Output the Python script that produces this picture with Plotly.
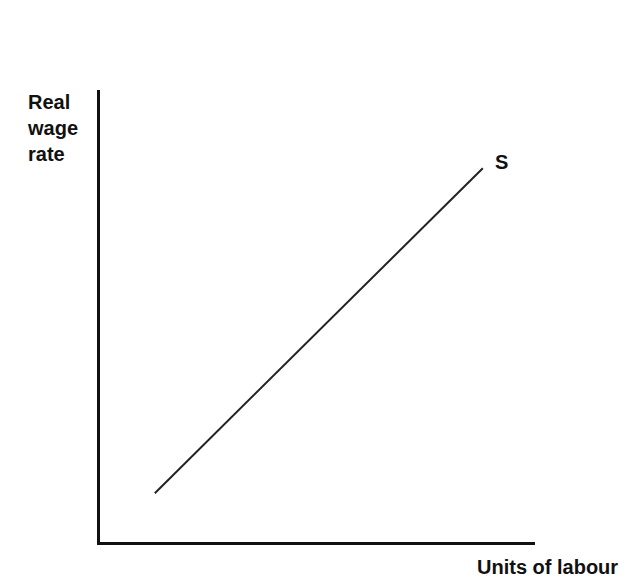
import plotly.graph_objects as go

# Supply curve endpoints (units of labour, real wage rate) in arbitrary units
supply_x = [1.26, 8.8]
supply_y = [1.08, 8.27]
curve_label = "S"
y_title = "Real<br>wage<br>rate"
x_title = "Units of labour"

# page has an 8px body margin, so the figure is sized to fit inside the window
W, H = 615, 572
L, R, T, B = 92, 88, 82, 38
PW, PH = W - L - R, H - T - B

fig = go.Figure()
fig.add_trace(go.Scatter(x=supply_x, y=supply_y, mode="lines",
                         line=dict(color="#222222", width=2), hoverinfo="skip",
                         showlegend=False))

font = dict(family="Liberation Sans, Arial, sans-serif", size=20, color="#111111")

fig.add_annotation(x=supply_x[-1], y=supply_y[-1], xref="x", yref="y",
                   text="<b>%s</b>" % curve_label, showarrow=False,
                   xanchor="center", yanchor="middle", xshift=19, yshift=6, font=font)
fig.add_annotation(x=(17 - L) / PW, y=((T + PH) - 81) / PH, xref="paper", yref="paper",
                   text="<b>%s</b>" % y_title, showarrow=False, align="left",
                   xanchor="left", yanchor="top", font=font)
fig.add_annotation(x=(W - 4 - L) / PW, y=((T + PH) - 559) / PH, xref="paper", yref="paper",
                   text="<b>%s</b>" % x_title, showarrow=False, borderpad=0,
                   xanchor="right", yanchor="middle", font=font)

fig.update_xaxes(range=[0, 10], showgrid=False, zeroline=False, showticklabels=False,
                 ticks="", showline=True, linecolor="#111111", linewidth=3)
fig.update_yaxes(range=[0, 10], showgrid=False, zeroline=False, showticklabels=False,
                 ticks="", showline=True, linecolor="#111111", linewidth=3)
fig.update_layout(width=W, height=H, margin=dict(l=L, r=R, t=T, b=B),
                  plot_bgcolor="white", paper_bgcolor="white")
fig.write_html("out.html")
